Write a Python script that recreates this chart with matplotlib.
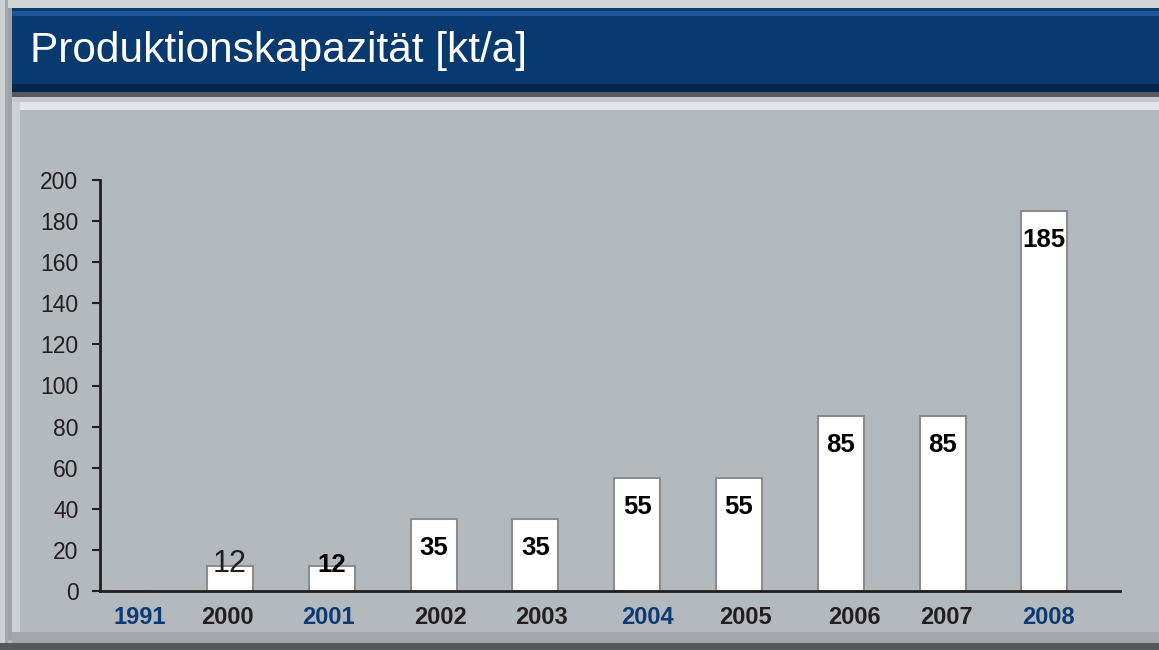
import matplotlib
matplotlib.use("Agg")
import matplotlib.pyplot as plt
from matplotlib.patches import Rectangle

years = ["1991", "2000", "2001", "2002", "2003", "2004", "2005", "2006", "2007", "2008"]
capacity = [0, 12, 12, 35, 35, 55, 55, 85, 85, 185]
title = "Produktionskapazität [kt/a]"
yticks = [0, 20, 40, 60, 80, 100, 120, 140, 160, 180, 200]

# styles
label_colors = ["#0b3b72", "#231f20", "#0b3b72", "#231f20", "#231f20",
                "#0b3b72", "#231f20", "#231f20", "#231f20", "#0b3b72"]
tick_dx_pt = [8.6, -1.8, -2.2, 5.0, 4.7, 7.2, 5.0, 10.0, 2.9, 3.2]

W, H = 1159, 650
fig = plt.figure(figsize=(W / 100, H / 100), dpi=100)
fig.patch.set_facecolor("#b4b9be")

def px_rect(x0, y0, x1, y1, color, z=0):
    fig.patches.append(Rectangle((x0 / W, 1 - y1 / H), (x1 - x0) / W, (y1 - y0) / H,
                                 transform=fig.transFigure, color=color, zorder=z, lw=0))

# frame / bevels
px_rect(0, 0, W, 8, "#d2d4d6")
px_rect(0, 0, 5, H, "#cdd0d2")
px_rect(5, 0, 8, H, "#a4a8ac")
px_rect(8, 8, 12, 640, "#9ea2a6")
px_rect(12, 92, W, 97, "#55595e")
px_rect(12, 97, W, 102, "#c4c7cb")
px_rect(12, 102, W, 110, "#e2e4e8")
px_rect(12, 102, 20, 640, "#cdd0d4")
px_rect(12, 632, W, 643, "#a2a6aa")
px_rect(0, 643, W, H, "#55595c")
# header bar
px_rect(12, 8, W, 92, "#083a70")
px_rect(12, 11, W, 16, "#1f5595")
px_rect(12, 84, W, 92, "#04264c")
fig.text(30 / W, 1 - 51 / H, title, color="white", fontsize=30.5,
         family="Liberation Sans", va="center", ha="left")

ax = fig.add_axes([100 / W, 1 - 591 / H, 1020 / W, 411 / H])
ax.set_facecolor("none")
x = list(range(len(years)))
ax.bar(x, capacity, width=0.452, color="white", edgecolor="#8c8c8c", linewidth=1.5, zorder=2)
ax.set_xlim(-0.277, 9.743)
ax.set_ylim(0, 200)
ax.set_yticks(yticks)
ax.set_yticklabels([str(v) for v in yticks], fontsize=16.5, family="Liberation Sans", color="#231f20")
ax.set_xticks(x)
ax.set_xticklabels([])
ax.tick_params(axis="x", length=0)
ax.tick_params(axis="y", length=6, width=1.5, color="#231f20", pad=9.5)
for s in ["top", "right"]:
    ax.spines[s].set_visible(False)
for s in ["left", "bottom"]:
    ax.spines[s].set_color("#231f20")
    ax.spines[s].set_linewidth(2)

# category labels
for i, (yr, c, dx) in enumerate(zip(years, label_colors, tick_dx_pt)):
    ax.annotate(yr, (i, 0), xycoords=("data", "axes fraction"), xytext=(dx, -11),
                textcoords="offset points", ha="center", va="top", fontsize=17,
                fontweight="bold", family="Liberation Sans", color=c,
                annotation_clip=False)

# value labels
for i, v in enumerate(capacity):
    if v == 0:
        continue
    if i == 1:
        ax.annotate(str(v), (i, v), xytext=(0, -4.3), textcoords="offset points",
                    ha="center", va="baseline", fontsize=22,
                    family="Liberation Sans", color="#231f20", zorder=3)
    elif i == 2:
        ax.annotate(str(v), (i, v), xytext=(0, -4.3), textcoords="offset points",
                    ha="center", va="baseline", fontsize=18.5, fontweight="bold",
                    family="Liberation Sans", color="black", zorder=3)
    else:
        ax.annotate(str(v), (i, v), xytext=(0, -26), textcoords="offset points",
                    ha="center", va="baseline", fontsize=18.5, fontweight="bold",
                    family="Liberation Sans", color="black", zorder=3)

fig.savefig("out.png", dpi=100, facecolor=fig.get_facecolor())
